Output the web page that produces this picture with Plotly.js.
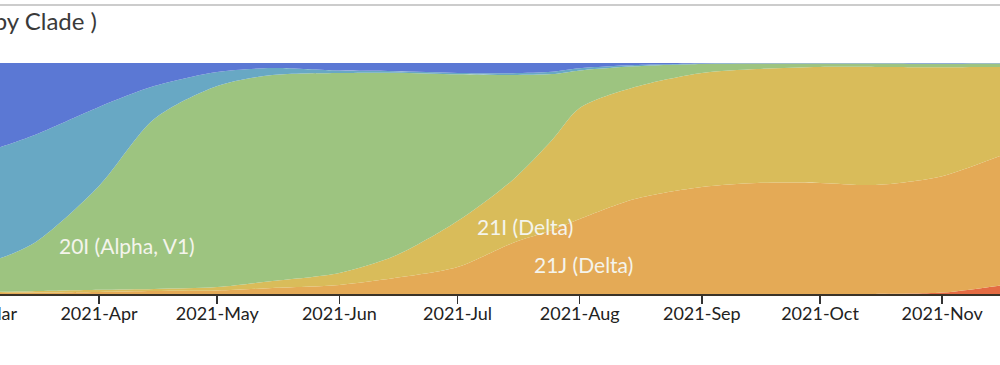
<!DOCTYPE html>
<html>
<head>
<meta charset="utf-8">
<script src="https://cdn.plot.ly/plotly-3.0.1.min.js"></script>
<style>
  html, body { margin: 0; padding: 0; width: 1000px; height: 365px; overflow: hidden; background: #fff; }
  #chart { position: absolute; left: -100px; top: 0; width: 1200px; height: 365px; }
</style>
</head>
<body>
<div id="chart"></div>
<script>
// ---- data (frequencies in %) ----
const dates = ['2021-02-15','2021-03-01','2021-03-15','2021-04-01','2021-04-15','2021-05-01','2021-05-15',
               '2021-06-01','2021-06-15','2021-07-01','2021-07-15','2021-07-25','2021-08-01','2021-08-15',
               '2021-09-01','2021-09-15','2021-10-01','2021-10-15','2021-11-01','2021-11-15','2021-12-01'];
const clade21K = [0,0,0,0,0,0,0,0,0,0,0,0,0,0,0,0,0,0,0.6,3.5,6.9];
const clade21J = [0.2,0.4,0.6,0.9,1.3,1.5,2.6,3.9,6.9,11.7,22.1,27.7,32.5,41.1,46.3,48.1,48.1,47.2,50.4,55.8,61.9];
const clade21I = [0.2,0.4,0.6,0.9,0.9,1.5,3.0,5.2,9.5,19.9,27.3,39.0,48.1,48.5,49.4,49.4,50.2,51.1,47.2,39.0,29.4];
const clade20I = [5.6,11.3,20.3,45.0,73.6,87.0,89.2,86.6,79.4,63.6,45.4,28.5,16.3,9.0,3.9,2.4,1.5,1.5,1.5,1.5,1.5];
const cladeOtherA = [46.8,48.1,46.8,34.2,14.3,6.1,3.0,1.0,0.6,0.6,0.8,1.0,0.9,0.5,0.2,0.1,0.1,0.1,0.1,0.1,0.1];
const cladeOtherB = [47.2,39.8,31.6,19.0,10.0,3.9,2.2,3.3,3.6,4.3,4.4,3.8,2.3,0.9,0.2,0.1,0.1,0.1,0.2,0.1,0.2];

const seriesNames = ['21K (Omicron)','21J (Delta)','21I (Delta)','20I (Alpha, V1)','20A','19A'];
const seriesValues = [clade21K, clade21J, clade21I, clade20I, cladeOtherA, cladeOtherB];
const seriesColors = ['#E46B43','#E4AA56','#D9BC5A','#9DC480','#68A8C4','#5B78D4'];

const titleText = 'by Clade )';
const labelTexts = ['20I (Alpha, V1)','21I (Delta)','21J (Delta)'];

const traces = seriesValues.map((vals, i) => ({
  type: 'scatter',
  mode: 'lines',
  name: seriesNames[i],
  x: dates,
  y: vals,
  stackgroup: 'freq',
  groupnorm: 'percent',
  line: { shape: 'spline', smoothing: 0.8, width: 0, color: seriesColors[i] },
  fillcolor: seriesColors[i],
  hoverinfo: 'skip'
}));

const labelFont = { family: 'Lato, sans-serif', size: 21, color: '#f4f4ec' };

const layout = {
  width: 1200,
  height: 365,
  margin: { l: 40, r: 60, t: 63, b: 71 },
  paper_bgcolor: '#ffffff',
  plot_bgcolor: '#ffffff',
  showlegend: false,
  font: { family: 'Lato, sans-serif', color: '#333333' },
  title: {
    text: titleText,
    font: { family: 'Lato, sans-serif', size: 24, color: '#3a3a3a' },
    xref: 'container', x: 197 / 1200, xanchor: 'right',
    yref: 'container', y: 1 - 22 / 365, yanchor: 'middle'
  },
  xaxis: {
    type: 'date',
    range: ['2021-02-19 15:20', '2021-11-25 20:00'],
    tick0: '2021-01-01',
    dtick: 'M1',
    tickformat: '%Y-%b',
    ticks: 'outside',
    ticklen: 8,
    tickwidth: 1.5,
    tickcolor: '#333333',
    ticklabelstandoff: -6,
    showline: true,
    linecolor: '#3a3328',
    linewidth: 2,
    showgrid: false,
    zeroline: false,
    tickfont: { family: 'Lato, sans-serif', size: 18, color: '#222222' },
    fixedrange: true
  },
  yaxis: {
    range: [0, 100],
    visible: false,
    showgrid: false,
    zeroline: false,
    fixedrange: true
  },
  shapes: [{
    type: 'line', xref: 'paper', yref: 'paper',
    x0: -1, x1: 2, y0: 1 + 58 / 231, y1: 1 + 58 / 231,
    line: { color: '#cccccc', width: 2 }
  }],
  annotations: [
    { text: labelTexts[0], xref: 'x', yref: 'paper', x: '2021-04-08', y: (294 - 246) / 231,
      xanchor: 'center', yanchor: 'middle', showarrow: false, font: labelFont },
    { text: labelTexts[1], xref: 'x', yref: 'paper', x: '2021-07-18', y: (294 - 226) / 231,
      xanchor: 'center', yanchor: 'middle', showarrow: false, font: labelFont },
    { text: labelTexts[2], xref: 'x', yref: 'paper', x: '2021-08-02', y: (294 - 264) / 231,
      xanchor: 'center', yanchor: 'middle', showarrow: false, font: labelFont }
  ]
};

Plotly.newPlot('chart', traces, layout, { staticPlot: true, displayModeBar: false });
</script>
</body>
</html>
